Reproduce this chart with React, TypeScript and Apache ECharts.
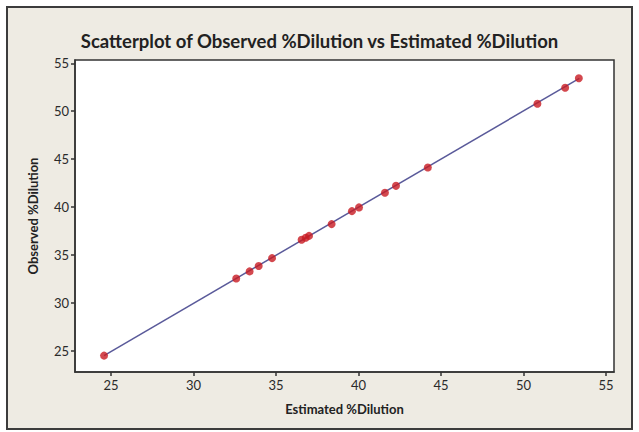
import React, { useEffect, useRef } from "react";
import * as echarts from "echarts";

const titleText = "Scatterplot of Observed %Dilution vs Estimated %Dilution";
const xAxisName = "Estimated %Dilution";
const yAxisName = "Observed %Dilution";

const estimated = [24.58, 32.59, 33.4, 33.95, 34.76, 36.55, 36.8, 37.0, 38.37, 39.6, 40.03, 41.6, 42.27, 44.2, 50.84, 52.52, 53.35];
const observed = [24.52, 32.56, 33.3, 33.87, 34.68, 36.6, 36.8, 37.0, 38.23, 39.58, 39.97, 41.5, 42.22, 44.14, 50.78, 52.45, 53.43];

const fitX = [24.58, 53.38];
const fitY = [24.52, 53.43];

const tickValues = [25, 30, 35, 40, 45, 50, 55];

const xRange = [22.82, 55.48];
const yRange = [22.81, 55.34];

export default function App() {
  const ref = useRef<HTMLDivElement>(null);
  useEffect(() => {
    if (!ref.current) return;
    const chart = echarts.init(ref.current, null, { renderer: "svg" });
    const font = "Lato";
    const axisCommon = {
      type: "value" as const,
      splitLine: { show: false },
      axisLine: { show: true, onZero: false, lineStyle: { color: "#333", width: 1.5 } },
      axisTick: { show: true, inside: false, length: 4, lineStyle: { color: "#333", width: 1.5 }, customValues: tickValues },
      axisLabel: { show: true, color: "#2a2a2a", fontFamily: font, fontSize: 13, customValues: tickValues, margin: 6 },
      nameLocation: "middle" as const,
      nameTextStyle: { fontFamily: font, fontWeight: "bold", fontSize: 13, color: "#222" },
    };
    chart.setOption({
      animation: false,
      backgroundColor: "#ffffff",
      graphic: [
        {
          type: "rect",
          z: -100,
          shape: { x: 7, y: 7, width: 625, height: 422 },
          style: { fill: "#eeebe3", stroke: "#3c3c3c", lineWidth: 2 },
          silent: true,
        },
      ],
      title: {
        text: titleText,
        left: "center",
        top: 26,
        textStyle: { fontFamily: font, fontWeight: "bold", fontSize: 18.5, color: "#222" },
      },
      grid: {
        left: 75,
        top: 60,
        right: 25,
        bottom: 60,
        show: true,
        backgroundColor: "#ffffff",
        borderColor: "#333",
        borderWidth: 1.5,
      },
      xAxis: {
        ...axisCommon,
        min: xRange[0],
        max: xRange[1],
        name: xAxisName,
        nameGap: 30,
      },
      yAxis: {
        ...axisCommon,
        min: yRange[0],
        max: yRange[1],
        name: yAxisName,
        nameGap: 36,
        nameRotate: 90,
      },
      series: [
        {
          type: "line",
          data: fitX.map((x, i) => [x, fitY[i]]),
          showSymbol: false,
          symbol: "none",
          lineStyle: { color: "#5a5a9a", width: 1.5 },
          z: 2,
        },
        {
          type: "scatter",
          data: estimated.map((x, i) => [x, observed[i]]),
          symbol: "circle",
          symbolSize: 8,
          itemStyle: { color: "#c81a22" },
          z: 3,
        },
      ],
    });
    return () => chart.dispose();
  }, []);
  return <div ref={ref} style={{ position: "fixed", left: 0, top: 0, width: 639, height: 432 }} />;
}
